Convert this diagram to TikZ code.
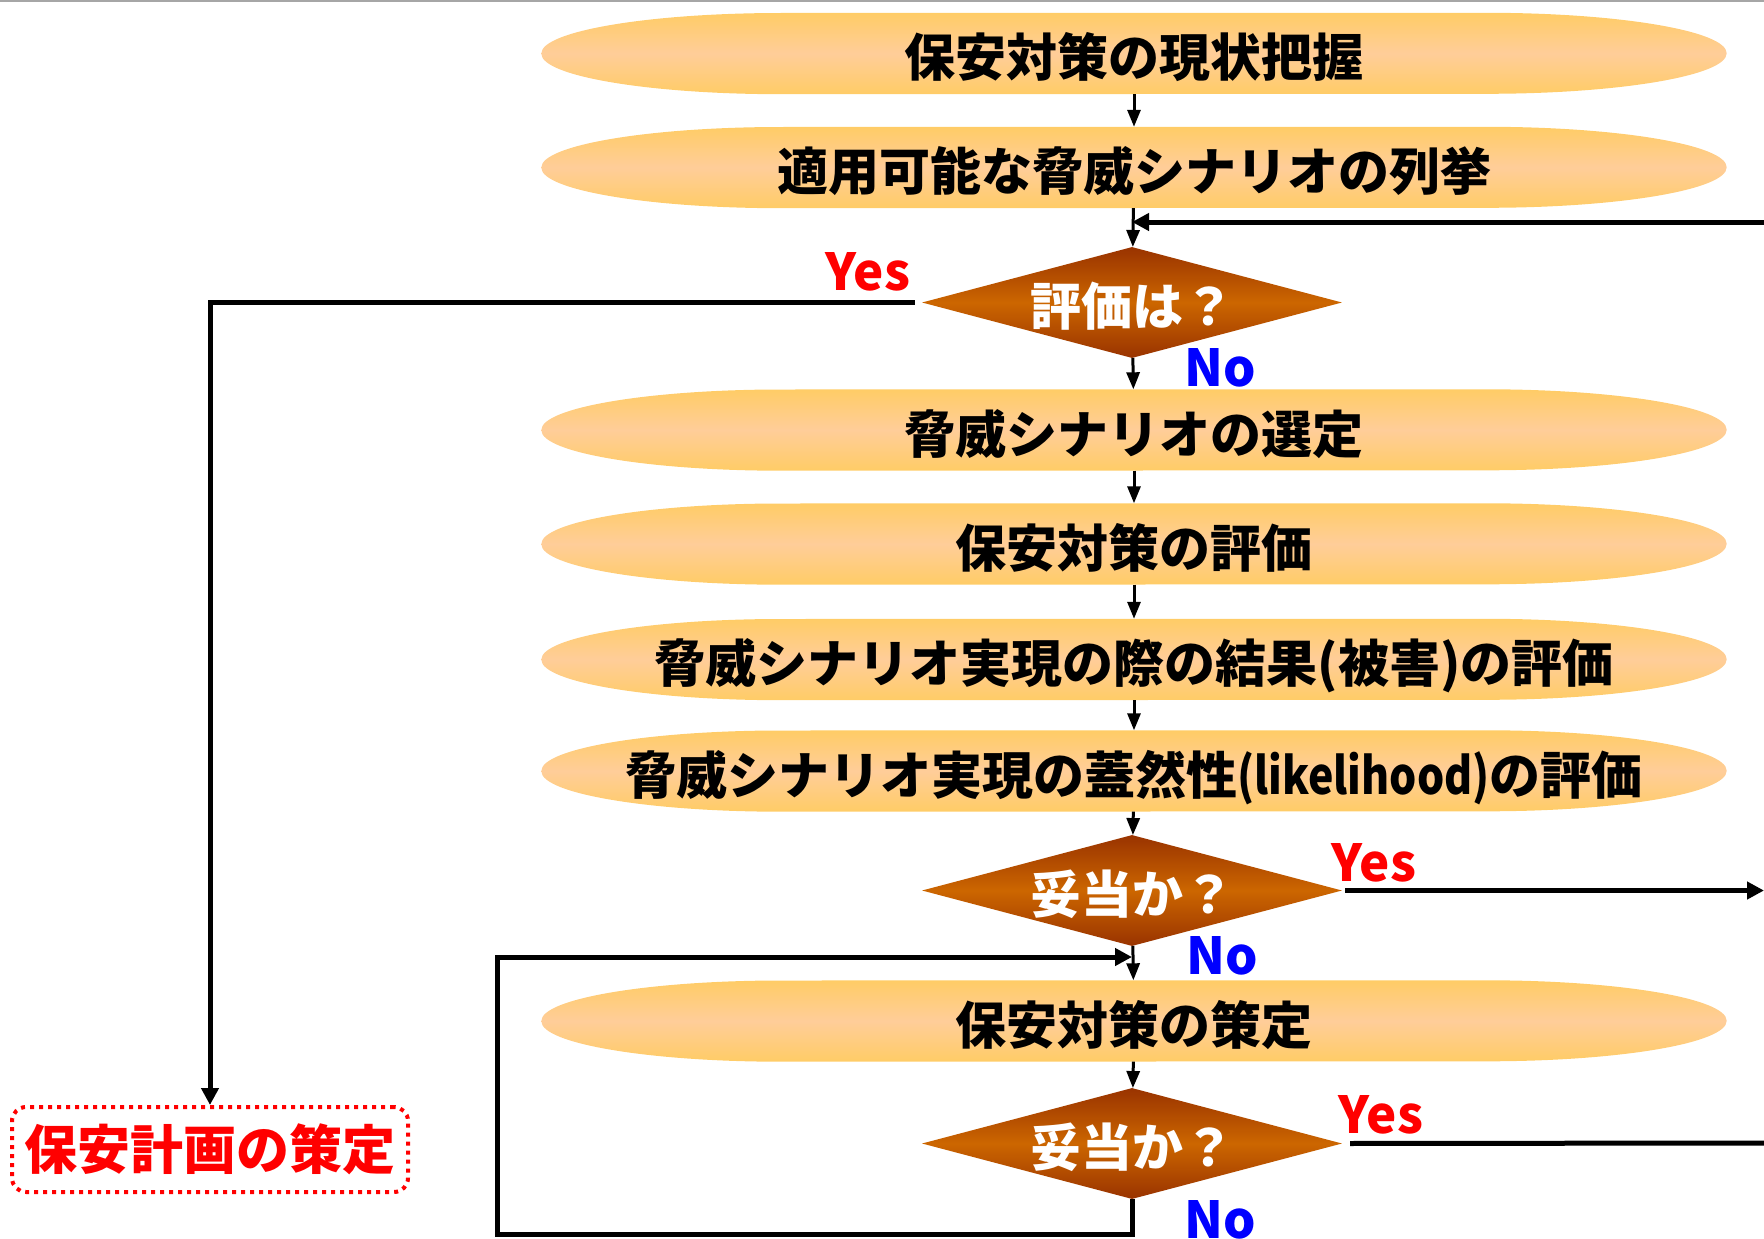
\documentclass[tikz,border=0pt]{standalone}
\usepackage{fontspec}
\usepackage{graphicx}
\setmainfont{Noto Sans CJK JP}
\usetikzlibrary{shapes.geometric,arrows.meta,backgrounds}
\definecolor{elltop}{RGB}{255,204,102}
\definecolor{ellmid}{RGB}{255,205,153}
\definecolor{diadark}{RGB}{153,51,0}
\definecolor{diamid}{RGB}{204,102,0}
\definecolor{yesred}{RGB}{255,0,0}
\definecolor{noblue}{RGB}{0,0,255}
\tikzset{
  proc/.style={rectangle, minimum width=1185pt, minimum height=81pt, inner sep=0pt,
    text height=46pt, text depth=0pt,
    font=\bfseries\fontsize{51}{60}\selectfont, text=black},
  stadium/.style={top color=elltop, bottom color=elltop, middle color=ellmid},
  decide/.style={diamond, aspect=1, minimum width=420pt, minimum height=111pt, inner sep=0pt,
    text height=45pt, text depth=0pt,
    top color=diadark, bottom color=diadark, middle color=diamid,
    font=\bfseries\fontsize{51}{60}\selectfont, text=white},
  yeslbl/.style={anchor=base, text=yesred, font=\bfseries\fontsize{51}{60}\selectfont, inner sep=0pt},
  nolbl/.style={anchor=base, text=noblue, font=\bfseries\fontsize{51}{60}\selectfont, inner sep=0pt},
  planbox/.style={draw=yesred, line width=4pt, dash pattern=on 4pt off 5pt, rounded corners=14pt,
    minimum width=396pt, minimum height=85pt, inner sep=0pt,
    text=yesred, font=\bfseries\fontsize{53}{60}\selectfont},
  thinarrow/.style={line width=3pt, -{Triangle[length=17pt,width=13pt]}},
  thickline/.style={line width=5pt},
  thickarrow/.style={line width=5pt, -{Triangle[length=17pt,width=17pt]}},
}
\begin{document}
\begin{tikzpicture}[x=1pt,y=-1pt]
\useasboundingbox (0,0) rectangle (1764,1239);
\fill[gray!70] (0,0) rectangle (1764,2.5);

% process boxes (text); their rounded-ellipse backgrounds are drawn below
\node[proc] (E1) at (1134,53.5) {\makebox[0pt]{保安対策の現状把握}};
\node[proc] (E2) at (1134,167.5) {\makebox[0pt]{適用可能な脅威シナリオの列挙}};
\node[proc] (E3) at (1134,430) {\makebox[0pt]{脅威シナリオの選定}};
\node[proc] (E4) at (1134,544) {\makebox[0pt]{保安対策の評価}};
\node[proc] (E5) at (1134,659.5) {\makebox[0pt]{脅威シナリオ実現の際の結果(被害)の評価}};
\node[proc] (E6) at (1134,771) {\makebox[0pt]{脅威シナリオ実現の蓋然性\scalebox{0.84}[1]{(likelihood)}の評価}};
\node[proc] (E7) at (1134,1021) {\makebox[0pt]{保安対策の策定}};

\begin{scope}[on background layer]
\foreach \n in {E1,E2,E3,E4,E5,E6,E7}{
  \shade[stadium] (\n.west)
    arc[start angle=180, end angle=90, x radius=240pt, y radius=40.5pt]
    -- ([xshift=-240pt]\n.north east)
    arc[start angle=90, end angle=-90, x radius=240pt, y radius=40.5pt]
    -- ([xshift=240pt]\n.south west)
    arc[start angle=270, end angle=180, x radius=240pt, y radius=40.5pt]
    -- cycle;
}
\end{scope}

% decisions
\node[decide] (D1) at (1132,302.5) {\makebox[0pt]{評価は？}};
\node[decide] (D2) at (1132,890.5) {\makebox[0pt]{妥当か？}};
\node[decide] (D3) at (1132,1143.5) {\makebox[0pt]{妥当か？}};

% plan box
\node[planbox] (P) at (210,1149.5) {保安計画の策定};

% labels
\node[yeslbl] (Y1) at (868,290) {Yes};
\node[nolbl]  (N1) at (1220,386) {No};
\node[yeslbl] (Y2) at (1374,881) {Yes};
\node[nolbl]  (N2) at (1222,974) {No};
\node[yeslbl] (Y3) at (1381,1133) {Yes};
\node[nolbl]  (N3) at (1220,1238) {No};

% coordinates for free ends
\coordinate (FB) at (1764,222);
\coordinate (Y2end) at (1764,890.5);
\coordinate (Y3end) at (1764,1143);
\coordinate (LA) at (497,1234);
\coordinate (LB) at (497,957);

% main chain
\draw[thinarrow] (E1) -- (E2);
\draw[thinarrow] (E2) -- (D1);
\draw[thinarrow] (D1) -- (E3);
\draw[thinarrow] (E3) -- (E4);
\draw[thinarrow] (E4) -- (E5);
\draw[thinarrow] (E5) -- (E6);
\draw[thinarrow] (E6) -- (D2);
\draw[thinarrow] (D2) -- (E7);
\draw[thinarrow] (E7) -- (D3);

% feedback into top
\draw[thickarrow] (FB) -- (D1.north |- FB);

% yes branch to plan
\draw[thickarrow, shorten <=7pt] (D1.west) -| (P.north);

% yes branches right
\draw[thickarrow, shorten <=3pt] (D2.east) -- (Y2end);
\draw[thickline, shorten <=8pt] (D3.east) -- (Y3end);

% loop back
\draw[thickarrow] (D3.south) |- (LA) -- (LB) -- (D2.south |- LB);
\end{tikzpicture}
\end{document}
